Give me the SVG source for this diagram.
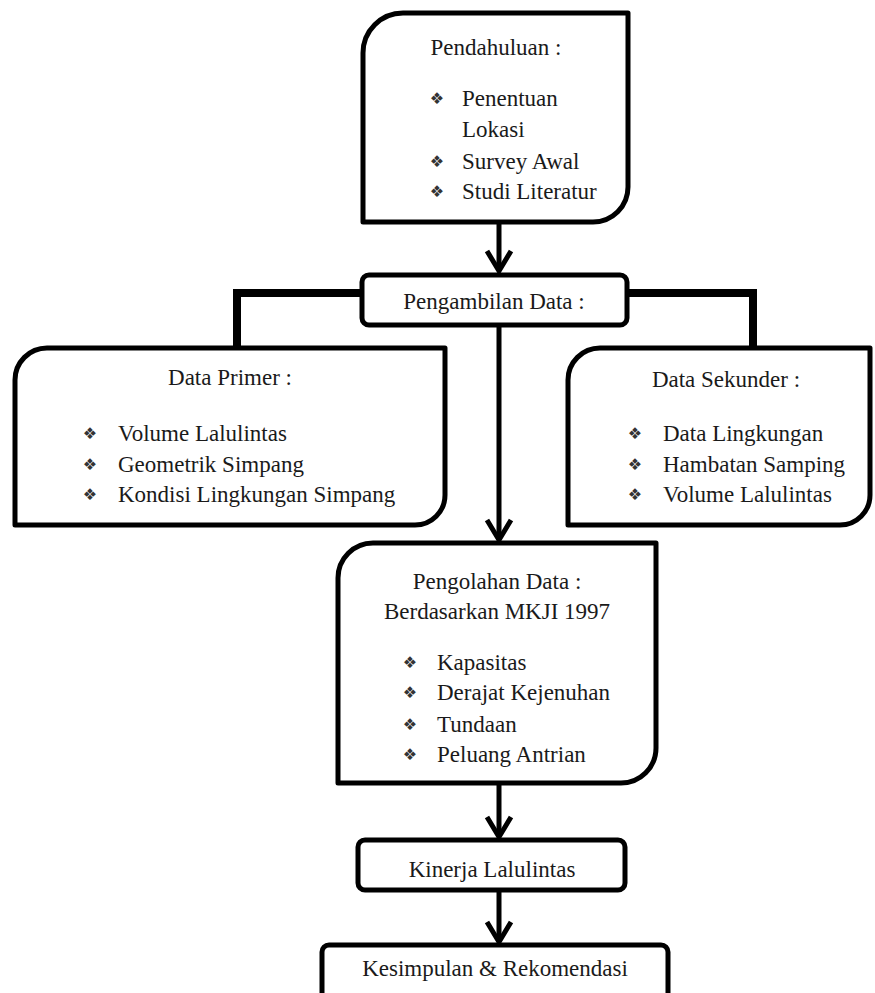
<svg xmlns="http://www.w3.org/2000/svg" width="875" height="993" viewBox="0 0 875 993">
<style>
.box{fill:#fff;stroke:#000;stroke-width:5;stroke-linejoin:round}
.t{font-family:"Liberation Serif","Times New Roman",serif;font-size:23px;fill:#1a1a1a}
.c{text-anchor:middle}
.b{font-family:"DejaVu Sans",sans-serif;font-size:16px;fill:#333;text-anchor:middle}
.elbow{fill:none;stroke:#000;stroke-width:8;stroke-linejoin:miter}
.arrow{fill:none;stroke:#000;stroke-width:5;marker-end:url(#chev)}
</style>
<defs>
<marker id="chev" viewBox="0 0 24 26" refX="21" refY="13" markerWidth="24" markerHeight="26" markerUnits="userSpaceOnUse" orient="auto" overflow="visible">
<path d="M1,1 L21,13 L1,25" fill="none" stroke="#000" stroke-width="5" stroke-linejoin="miter"/>
</marker>
</defs>
<rect width="875" height="993" fill="#fff"/>
<g id="connectors">
<line class="arrow" x1="499" y1="222" x2="499" y2="271"/>
<polyline class="elbow" points="362,293 237,293 237,348"/>
<polyline class="elbow" points="627,293 753,293 753,348"/>
<line class="arrow" x1="499" y1="325" x2="499" y2="540"/>
<line class="arrow" x1="499" y1="783" x2="499" y2="837"/>
<line class="arrow" x1="499" y1="890" x2="499" y2="942"/>
</g>
<g id="pendahuluan">
<path class="box" d="M363,53 A40,40 0 0 1 403,13 H628 V187 A35,35 0 0 1 593,222 H363 Z"/>
<text class="t c" x="496" y="55">Pendahuluan :</text>
<text class="b" x="437" y="104">❖</text>
<text class="t" x="462" y="106">Penentuan</text>
<text class="t" x="462" y="137">Lokasi</text>
<text class="b" x="437" y="167">❖</text>
<text class="t" x="462" y="169">Survey Awal</text>
<text class="b" x="437" y="197">❖</text>
<text class="t" x="462" y="199">Studi Literatur</text>
</g>
<g id="pengambilan">
<rect class="box" x="362" y="275" width="265" height="50" rx="7"/>
<text class="t c" x="494" y="309">Pengambilan Data :</text>
</g>
<g id="data-primer">
<path class="box" d="M15,380 A32,32 0 0 1 47,348 H445 V495 A30,30 0 0 1 415,525 H15 Z"/>
<text class="t c" x="230" y="385">Data Primer :</text>
<text class="b" x="90" y="439">❖</text>
<text class="t" x="118" y="441">Volume Lalulintas</text>
<text class="b" x="90" y="470">❖</text>
<text class="t" x="118" y="472">Geometrik Simpang</text>
<text class="b" x="90" y="500">❖</text>
<text class="t" x="118" y="502">Kondisi Lingkungan Simpang</text>
</g>
<g id="data-sekunder">
<path class="box" d="M568,380 A32,32 0 0 1 600,348 H870 V495 A30,30 0 0 1 840,525 H568 Z"/>
<text class="t c" x="726" y="387">Data Sekunder :</text>
<text class="b" x="635" y="439">❖</text>
<text class="t" x="663" y="441">Data Lingkungan</text>
<text class="b" x="635" y="470">❖</text>
<text class="t" x="663" y="472">Hambatan Samping</text>
<text class="b" x="635" y="500">❖</text>
<text class="t" x="663" y="502">Volume Lalulintas</text>
</g>
<g id="pengolahan">
<path class="box" d="M338,578 A35,35 0 0 1 373,543 H656 V748 A35,35 0 0 1 621,783 H338 Z"/>
<text class="t c" x="497" y="589">Pengolahan Data :</text>
<text class="t c" x="497" y="619">Berdasarkan MKJI 1997</text>
<text class="b" x="410" y="668">❖</text>
<text class="t" x="437" y="670">Kapasitas</text>
<text class="b" x="410" y="698">❖</text>
<text class="t" x="437" y="700">Derajat Kejenuhan</text>
<text class="b" x="410" y="730">❖</text>
<text class="t" x="437" y="732">Tundaan</text>
<text class="b" x="410" y="760">❖</text>
<text class="t" x="437" y="762">Peluang Antrian</text>
</g>
<g id="kinerja">
<rect class="box" x="358" y="840" width="267" height="50" rx="7"/>
<text class="t c" x="492" y="877">Kinerja Lalulintas</text>
</g>
<g id="kesimpulan">
<rect class="box" x="322" y="945" width="346" height="70" rx="7"/>
<text class="t c" x="495" y="976">Kesimpulan &amp; Rekomendasi</text>
</g>
</svg>
